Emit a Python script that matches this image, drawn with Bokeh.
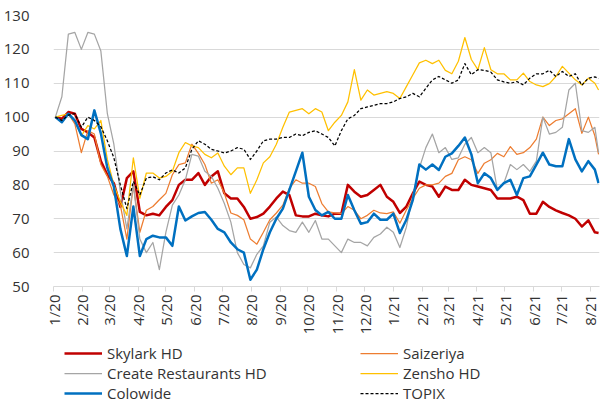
import math
import pandas as pd
from bokeh.plotting import figure
from bokeh.models import FixedTicker, Legend, LegendItem, Range1d
from bokeh.layouts import column
from bokeh.embed import file_html
from bokeh.resources import INLINE

# weekly observation dates (Fridays) plus final day
dates = list(pd.date_range("2020-01-03", periods=84, freq="7D")) + [pd.Timestamp("2021-08-10")]

skylark = [100, 99.5, 101.5, 101, 96.5, 95.5, 94, 87, 83, 80.5,
           73.5, 82, 84, 72, 71, 71.5, 71, 73.5, 75.5, 80,
           81.5, 81.5, 83.5, 80, 82.5, 84, 77.5, 76, 76, 73.5,
           70, 70.5, 71.5, 73.6, 76, 78, 77, 71, 70.7, 70.7,
           71.5, 71, 70.7, 71.5, 71.5, 80, 78, 76.5, 77, 78.5,
           80, 76.5, 75, 71.7, 73.6, 77.5, 81, 80, 79.5, 76.5,
           79.5, 78.5, 78.5, 81.5, 80, 79.5, 79, 78.5, 76, 76,
           76, 76.5, 75.5, 71.5, 71.5, 75, 73.5, 72.5, 71.7, 71,
           70, 67.7, 69.5, 66, 65.8]

saizeriya = [100, 98.5, 101, 98, 89.5, 96, 95, 86, 82.5, 77,
             74, 64, 80, 66, 72.5, 73.6, 75.6, 77.5, 83, 86,
             86.5, 92, 89.3, 86, 80.5, 81.5, 77.5, 71.7, 71, 69.7,
             64, 62.5, 66, 69.7, 71.7, 74, 79, 81.5, 80.5, 80.5,
             79.5, 74.5, 72, 71.7, 71.5, 73.6, 72.5, 70, 71, 72.5,
             71.7, 71.5, 72, 68.7, 72.6, 76, 79, 80, 80, 80.5,
             82.5, 83.4, 87.4, 88.3, 87.4, 83.4, 86.4, 87.4, 89.3, 88.3,
             91.3, 89, 89.5, 91, 93.5, 100, 97.5, 99, 99.5, 101,
             102.5, 95.2, 100, 94.5, 89]

create_rest = [100, 106, 124.5, 125, 120, 125, 124.5, 119.5, 101, 92,
               78, 67, 80, 64, 60, 63, 55, 66, 74, 77,
               81.5, 89, 88.5, 84, 82.5, 79, 74.5, 69, 60, 56.5,
               55.5, 59.5, 62, 69, 70.5, 68, 66.5, 66, 69, 66,
               69.5, 64, 64, 62, 60, 64, 63, 63, 62, 64.5,
               65.5, 67.5, 66, 61.5, 67.5, 77, 85, 91, 95, 89.5,
               91, 87.5, 88, 92, 94, 89.5, 91, 89.5, 78.5, 80.5,
               86, 84.5, 86, 84, 87, 100, 95, 95.5, 97, 108,
               110, 96, 95.5, 97, 89.5]

zensho = [100, 100.5, 101, 99, 94.5, 97.5, 96.5, 99, 87.5, 80,
          75, 71, 88, 76, 83.5, 83.5, 82, 82.5, 84, 89.5,
          92.5, 91.5, 91, 89, 88, 89.4, 85.5, 83, 85, 85,
          77.5, 81.5, 86.5, 88.3, 92, 97, 101.5, 102, 102.5, 101,
          102.5, 101.5, 96, 98.5, 100.5, 104.5, 114, 105, 108, 106.5,
          107, 107.5, 107, 105.5, 109, 112.5, 116, 116.8, 115.8, 116.8,
          113.8, 112.8, 116.5, 123.5, 117, 114, 120.5, 114, 112.8, 112.8,
          111, 111, 113, 110.5, 109.5, 109, 109.9, 112, 115, 113,
          111, 109.5, 111.5, 110, 108]

colowide = [100, 98.5, 101, 99, 94.7, 93.5, 102, 95.2, 85, 79.5,
            67, 59, 73.6, 59, 64, 65, 64.5, 64.5, 62, 73.6,
            69.5, 70.7, 71.7, 72, 69.7, 67, 66, 63, 61, 60,
            52, 55, 61, 66, 70, 73, 78.5, 84, 89.5, 76.5,
            72.6, 71, 72, 70, 70, 77, 72.5, 68.5, 69, 71.5,
            69.7, 69.7, 71.5, 65.8, 69.7, 75.6, 86, 84.5, 86, 84.4,
            88.3, 89.3, 91.5, 94, 89, 80.5, 83.4, 82, 78.5, 80.5,
            81.5, 77, 82, 82.5, 86, 89.5, 86, 85.5, 85.5, 93.5,
            87.5, 84, 87, 84.5, 80.5]

topix = [100, 99, 100.6, 101, 97, 100, 99, 97.2, 93, 88,
         80, 73, 81, 77, 82, 82.4, 81.5, 83.5, 84.4, 83.5,
         85, 90.5, 93, 92, 90.5, 90, 89.4, 90, 91, 90.5,
         87.5, 90, 93, 93.5, 93.5, 94, 94, 95, 94.5, 95.5,
         96, 95, 94, 91.5, 96, 99.5, 100.5, 102.5, 103, 103.5,
         104, 104, 104.5, 105.5, 106, 107, 106, 108.5, 111, 112,
         111, 110, 111, 115.8, 112.5, 114, 113.8, 113.3, 111, 110.4,
         110, 110.5, 109.5, 111.5, 112.8, 112.8, 113.8, 112, 113.5, 112,
         112.8, 109.4, 111.5, 111.9, 111.4]

series_names = ["Skylark HD", "Saizeriya", "Create Restaurants HD", "Zensho HD", "Colowide", "TOPIX"]
series_values = [skylark, saizeriya, create_rest, zensho, colowide, topix]
series_colors = ["#C00000", "#ED7D31", "#A5A5A5", "#FFC000", "#0070C0", "#000000"]
series_widths = [2.5, 1.25, 1.25, 1.25, 2.5, 1.25]
series_dash = ["solid", "solid", "solid", "solid", "solid", "3 2"]

tick_dates = list(pd.date_range("2020-01-01", periods=20, freq="MS"))
tick_labels = ["1/20", "2/20", "3/20", "4/20", "5/20", "6/20", "7/20", "8/20", "9/20", "10/20",
               "11/20", "12/20", "1/21", "2/21", "3/21", "4/21", "5/21", "6/21", "7/21", "8/21"]
y_ticks = [50, 60, 70, 80, 90, 100, 110, 120, 130]


def ms(ts):
    return int(pd.Timestamp(ts).value // 10**6)


FONT = "Open Sans"
TXT = "#333333"
W = 601
H_MAIN = 337
H_LEG = 66

p = figure(width=W, height=H_MAIN, x_axis_type="datetime",
           x_range=Range1d(ms("2020-01-01"), ms("2021-08-11")),
           y_range=Range1d(50, 130),
           output_backend="svg", toolbar_location=None,
           min_border_left=43, min_border_right=2, min_border_top=15, min_border_bottom=50)
p.outline_line_color = None
p.background_fill_color = "white"

x_ms = [ms(d) for d in dates]
for vals, col, w, dash in zip(series_values, series_colors, series_widths, series_dash):
    p.line(x_ms, vals, line_color=col, line_width=w, line_dash=dash, line_join="round")

# axes
tick_ms = [ms(d) for d in tick_dates]
p.xaxis.ticker = FixedTicker(ticks=tick_ms)
p.xaxis.major_label_overrides = {t: lab for t, lab in zip(tick_ms, tick_labels)}
p.xaxis.major_label_orientation = math.pi / 2
p.xaxis.major_label_text_font = FONT
p.xaxis.major_label_text_font_size = "15px"
p.xaxis.major_label_text_color = TXT
p.xaxis.major_label_standoff = 3
p.xaxis.axis_line_color = "#D9D9D9"
p.xaxis.major_tick_line_color = "#D9D9D9"
p.xaxis.major_tick_out = 5
p.xaxis.major_tick_in = 0
p.xaxis.minor_tick_line_color = None

p.yaxis.ticker = FixedTicker(ticks=y_ticks)
p.yaxis.axis_line_color = None
p.yaxis.major_tick_line_color = None
p.yaxis.minor_tick_line_color = None
p.yaxis.major_label_text_font = FONT
p.yaxis.major_label_text_font_size = "15px"
p.yaxis.major_label_text_color = TXT
p.yaxis.major_label_standoff = 18

p.xgrid.visible = False
p.ygrid.grid_line_color = "#D9D9D9"
p.ygrid.grid_line_width = 1

# legend strip below the chart (hidden copies of the series give the legend its samples)
pl = figure(width=W, height=H_LEG, x_axis_location=None, y_axis_location=None,
            output_backend="svg", toolbar_location=None, min_border=0)
pl.outline_line_color = None
pl.xgrid.visible = False
pl.ygrid.visible = False
samples = []
for vals, col, w, dash in zip(series_values, series_colors, series_widths, series_dash):
    samples.append(pl.line(x_ms, vals, line_color=col, line_width=w, line_dash=dash, visible=False))


def make_legend(idx, xloc):
    return Legend(items=[LegendItem(label=series_names[i], renderers=[samples[i]]) for i in idx],
                  orientation="vertical", location=(xloc, 0), click_policy="none",
                  margin=0, padding=0, spacing=0,
                  glyph_width=38, glyph_height=20, label_height=20, label_standoff=5,
                  label_text_font=FONT, label_text_font_size="15px", label_text_color=TXT,
                  border_line_color=None, background_fill_alpha=0, inactive_fill_alpha=0)


pl.add_layout(make_legend([0, 2, 4], 11), "center")
pl.add_layout(make_legend([1, 3, 5], 307), "center")

layout = column(p, pl, spacing=0)
open("out.html", "w").write(file_html(layout, INLINE))
